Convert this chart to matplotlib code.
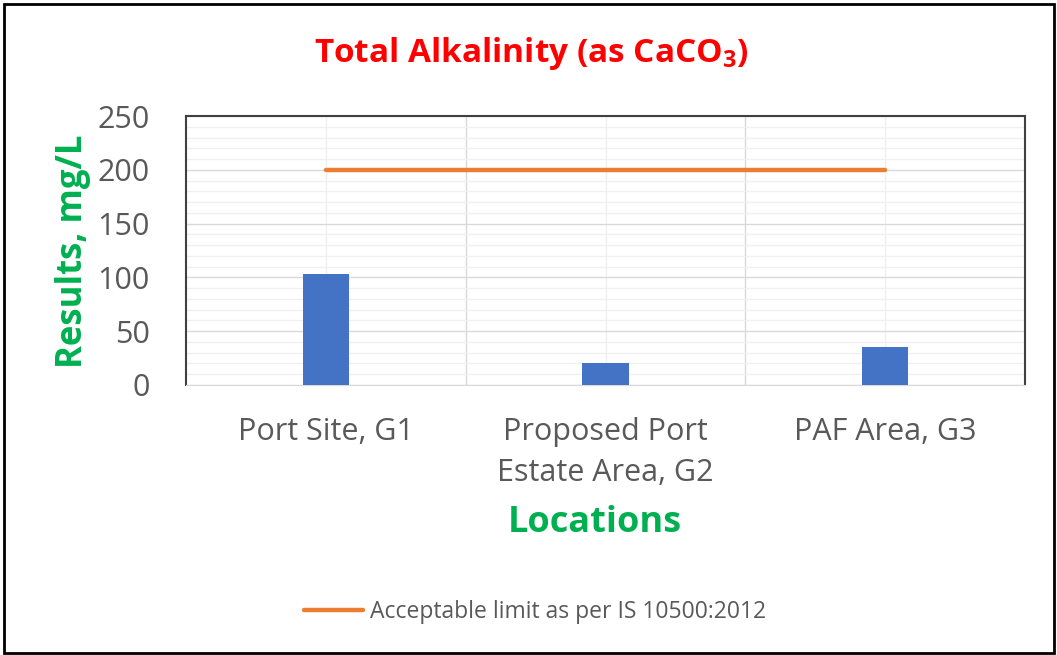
import numpy as np
import matplotlib.pyplot as plt
from matplotlib.patches import Rectangle

locations = ['Port Site, G1', 'Proposed Port\nEstate Area, G2', 'PAF Area, G3']
results = [103, 20, 35]
limit = [200, 200, 200]
yticks = [0, 50, 100, 150, 200, 250]

plt.rcParams['font.family'] = ['Open Sans', 'DejaVu Sans']

W, H = 1057, 655
fig = plt.figure(figsize=(W / 100, H / 100), dpi=100)
ax = fig.add_axes([186 / W, 1 - 385 / H, (1025 - 186) / W, (385 - 116) / H])

x = np.arange(len(locations))
ax.bar(x, results, width=0.165, color='#4472C4', zorder=3)
line, = ax.plot(x, limit, color='#ED7D31', lw=3.2, solid_capstyle='round', zorder=4,
                label='Acceptable limit as per IS 10500:2012')

ax.set_xlim(-0.5, len(locations) - 0.5)
ax.set_ylim(0, 250)
ax.set_yticks(yticks)
ax.set_yticks(np.arange(0, 251, 10), minor=True)
ax.set_xticks(x)
ax.set_xticklabels(locations, linespacing=1.5)
ax.set_xticks(np.arange(0.5, len(locations) - 0.5, 1), minor=True)

ax.grid(which='major', axis='y', color='#D9D9D9', lw=1, zorder=0)
ax.grid(which='minor', axis='y', color='#F0F0F0', lw=1, zorder=0)
ax.grid(which='major', axis='x', color='#F0F0F0', lw=1, zorder=0)
ax.grid(which='minor', axis='x', color='#D9D9D9', lw=1, zorder=0)

ax.tick_params(which='both', length=0)
ax.tick_params(axis='y', labelsize=22, labelcolor='#595959', pad=26)
ax.tick_params(axis='x', labelsize=22, labelcolor='#595959', pad=23)

for s in ['left', 'top', 'right']:
    ax.spines[s].set_color('#404040')
    ax.spines[s].set_linewidth(1.5)
ax.spines['bottom'].set_color('#D9D9D9')

# axis titles and chart title placed like the Excel layout
fig.text(73 / W, 1 - 251 / H, 'Results, mg/L', rotation=90, fontsize=25, fontweight='bold',
         color='#00B050', ha='center', va='center')
fig.text(595 / W, 1 - 532 / H, 'Locations', fontsize=26, fontweight='bold',
         color='#00B050', ha='center', va='baseline')
fig.text(531 / W, 1 - 62 / H, r'Total Alkalinity (as CaCO$_\mathregular{3}$)',
         fontsize=24, fontweight='bold', color='#FF0000', ha='center', va='baseline')

fig.legend(handles=[line], loc='center', bbox_to_anchor=(535 / W, 1 - 612 / H),
           frameon=False, fontsize=16.5, labelcolor='#595959', handlelength=2.6, handletextpad=0.3)

fig.patches.append(Rectangle((4 / W, 2 / H), 1050 / W, 649 / H, transform=fig.transFigure,
                             fill=False, edgecolor='black', lw=2))

fig.savefig('out.png', dpi=100)
